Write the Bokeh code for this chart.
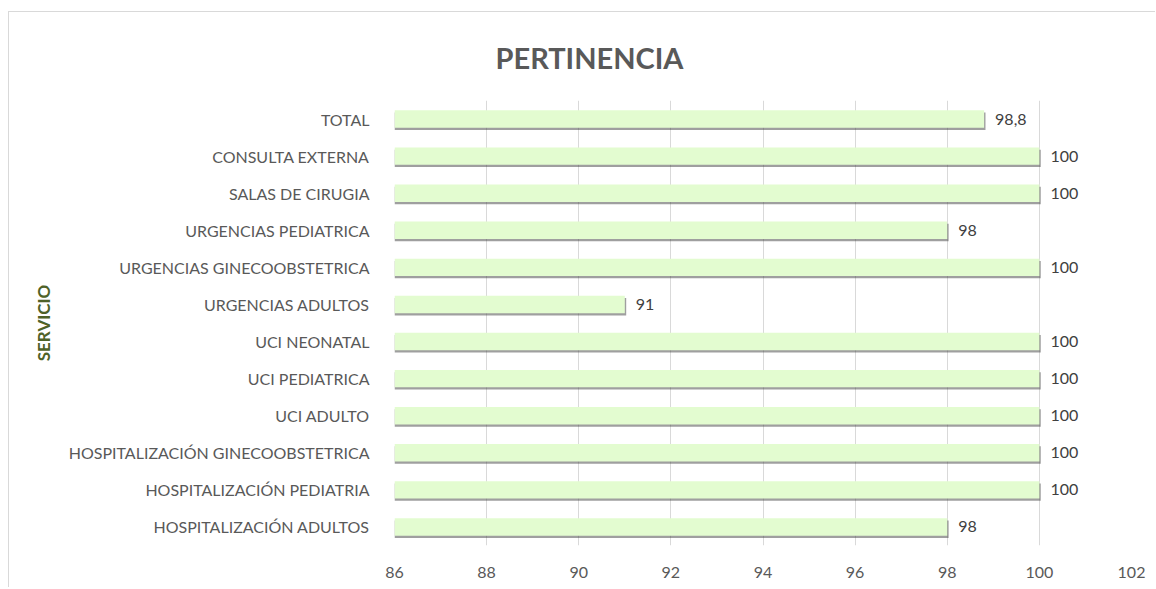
from bokeh.plotting import figure
from bokeh.models import ColumnDataSource, FactorRange, Range1d, SingleIntervalTicker, LabelSet
from bokeh.transform import dodge
from bokeh.core.properties import value
from bokeh.embed import file_html
from bokeh.resources import INLINE

servicios = ["TOTAL", "CONSULTA EXTERNA", "SALAS DE CIRUGIA", "URGENCIAS PEDIATRICA",
             "URGENCIAS GINECOOBSTETRICA", "URGENCIAS ADULTOS", "UCI NEONATAL",
             "UCI PEDIATRICA", "UCI ADULTO", "HOSPITALIZACIÓN GINECOOBSTETRICA",
             "HOSPITALIZACIÓN PEDIATRIA", "HOSPITALIZACIÓN ADULTOS"]
valores = [98.8, 100, 100, 98, 100, 91, 100, 100, 100, 100, 100, 98]
etiquetas = ["98,8", "100", "100", "98", "100", "91", "100", "100", "100", "100", "100", "98"]

FONT = "Lato"
src = ColumnDataSource(dict(s=servicios, v=valores, t=etiquetas))

p = figure(width=1147, height=576, output_backend="svg", toolbar_location=None,
           y_range=FactorRange(*list(reversed(servicios)), range_padding=0),
           x_range=Range1d(86, 102))
p.min_border_left = 385
p.min_border_right = 25
p.min_border_bottom = 43
p.min_border_top = 88
p.outline_line_color = None
p.styles = {"border-top": "1px solid #d9d9d9", "border-left": "1px solid #d9d9d9",
            "margin-top": "11px", "margin-left": "8px"}

p.title.text = "PERTINENCIA"
p.title.align = "left"
p.title.vertical_align = "top"
p.title.offset = 101
p.title.text_font = FONT
p.title.text_font_size = "29px"
p.title.text_font_style = "bold"
p.title.text_color = "#595959"
p.title.standoff = 48

# shadow
p.hbar(y=dodge("s", -0.06, range=p.y_range), left=86, right=dodge("v", 0.03), height=0.47,
       source=src, fill_color="#404040", fill_alpha=0.5, line_color=None)
p.hbar(y="s", left=86, right="v", height=0.47, source=src,
       fill_color="#E3FCD0", line_color=None)

labels = LabelSet(x="v", y="s", text="t", source=src, x_offset=11, y_offset=0,
                  text_baseline="middle", text_font=value(FONT), text_font_size="16px",
                  text_color="#404040")
p.add_layout(labels)

p.xaxis.ticker = SingleIntervalTicker(interval=2)
p.xgrid.ticker = SingleIntervalTicker(interval=2)
p.xgrid.grid_line_color = "#d9d9d9"
p.xgrid.grid_line_width = 1
p.ygrid.grid_line_color = None

for ax in (p.xaxis, p.yaxis):
    ax.axis_line_color = None
    ax.major_tick_line_color = None
    ax.minor_tick_line_color = None
    ax.major_label_text_font = FONT
    ax.major_label_text_font_size = "16px"
    ax.major_label_text_color = "#595959"

p.xaxis.major_label_standoff = 15
p.yaxis.major_label_standoff = 19
p.yaxis.axis_label = "SERVICIO"
p.yaxis.axis_label_text_font = FONT
p.yaxis.axis_label_text_font_size = "17px"
p.yaxis.axis_label_text_font_style = "bold"
p.yaxis.axis_label_text_color = "#4F6228"
p.yaxis.axis_label_standoff = 12

open("out.html", "w").write(file_html(p, INLINE))
